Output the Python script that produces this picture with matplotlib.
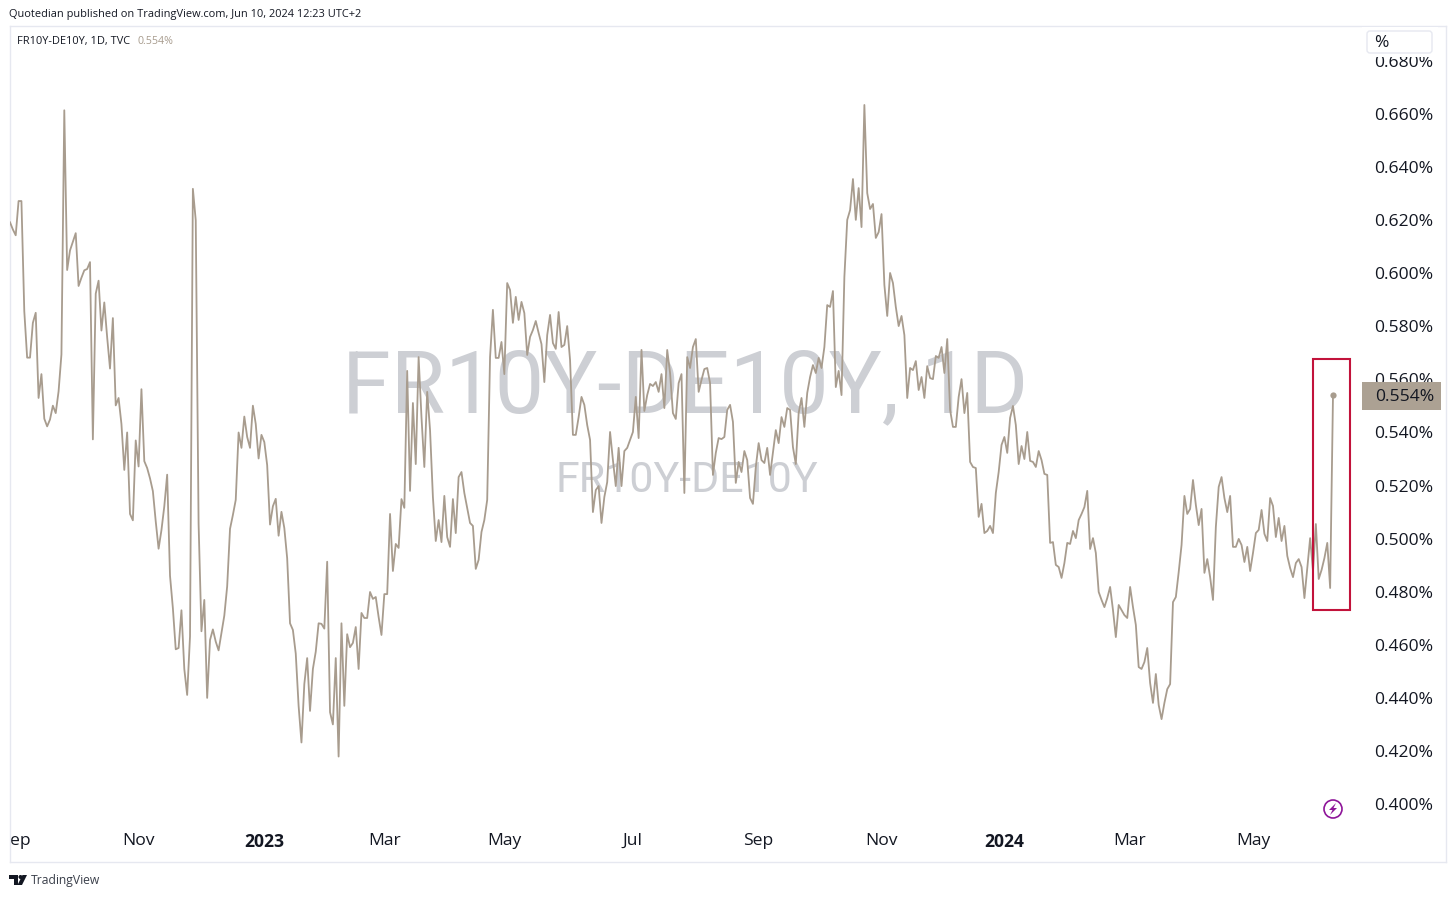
import numpy as np
import pandas as pd
import matplotlib
matplotlib.use("Agg")
import matplotlib.pyplot as plt
from matplotlib.patches import Rectangle, Circle, Polygon, FancyBboxPatch
from matplotlib.transforms import Affine2D

spread_2022 = [
 .6192,.6165,.6143,.6272,.6272,.5857,.5682,.5682,.5813,.5851,.5530,.5620,.5452,.5423,.5449,.5501,.5473,.5555,.5694,.6614,
 .6012,.6086,.6119,.6151,.5952,.5983,.6011,.6016,.6042,.5374,.5923,.5972,.5784,.5890,.5759,.5641,.5831,.5502,.5530,.5432,
 .5259,.5400,.5093,.5069,.5370,.5272,.5563,.5292,.5266,.5227,.5179,.5065,.4962,.5032,.5122,.5241,.4860,.4738,.4583,.4588,
 .4730,.4509,.4411,.4632,.6318,.6200,.5056,.4651,.4769,.4400,.4618,.4658,.4612,.4579,.4645,.4710,.4820,.5037,.5089,.5146,
 .5400,.5342,.5460,.5383,.5342,.5501,.5432,.5302,.5391,.5364,.5277,.5053,.5122,.5150,.5011,.5101,.5040,.4926,.4681,.4656,
 .4567,.4370,.4232,.4452,.4550,.4351,.4509,.4574,.4681,.4679,.4661,.4913,.4346,.4300,.4550,.4179,.4681,.4370,.4640,.4591,
 .4607,.4667,.4509]
spread_2023a = [
 .4720,.4701,.4701,.4799,.4773,.4780,.4705,.4637,.4791,.4791,.5093,.4878,.4980,.4965,.5149,.5116,.5632,.5180,.5511,.5281,
 .5684,.5458,.5270,.5553,.5409,.5157,.4991,.5070,.4987,.5161,.5006,.4969,.5149,.5021,.5232,.5251,.5172,.5116,.5059,.5048,
 .4886,.4920,.5025,.5070,.5146,.5684,.5862,.5681,.5681,.5741,.5620,.5963,.5937,.5813,.5911,.5824,.5892,.5850,.5692,.5760,
 .5786,.5820,.5775,.5733,.5590,.5767,.5843,.5737,.5715,.5854,.5722,.5730,.5801,.5673,.5391,.5391,.5458,.5534,.5504,.5428,
 .5372,.5100,.5183,.5198,.5059,.5157,.5213,.5402,.5296,.5198,.5342,.5198,.5330,.5342,.5372,.5402,.5534,.5379,.5711,.5481,
 .5541,.5583,.5575,.5590,.5553,.5620,.5492,.5711,.5624,.5473,.5451,.5586,.5620,.5172,.5684,.5643,.5722,.5752,.5553]
spread_2023b = [
 .5598,.5639,.5643,.5586,.5240,.5323,.5379,.5375,.5383,.5485,.5504,.5440,.5210,.5289,.5251,.5330,.5296,.5153,.5131,.5270,
 .5360,.5296,.5285,.5342,.5240,.5326,.5409,.5360,.5458,.5421,.5492,.5485,.5345,.5281,.5473,.5530,.5421,.5549,.5609,.5654,
 .5624,.5681,.5643,.5722,.5880,.5873,.5933,.5571,.5632,.5541,.5986,.6201,.6238,.6355,.6201,.6321,.6174,.6634,.6302,.6242,
 .6261,.6133,.6155,.6223,.5956,.5839,.6001,.5963,.5873,.5801,.5839,.5767,.5530,.5643,.5635,.5669,.5560,.5609,.5530,.5650,
 .5605,.5601,.5688,.5681,.5722,.5624,.5752,.5485,.5421,.5421,.5534,.5601,.5473,.5549,.5289,.5270,.5266,.5082,.5131,.5021,
 .5029,.5048,.5021,.5172,.5251,.5353,.5383,.5323,.5455,.5500,.5428,.5281,.5349,.5300,.5402,.5293,.5289,.5270,.5330,.5296,
 .5244,.5240,.4984,.4987]
spread_2024 = [
 .4901,.4893,.4852,.4908,.4984,.4980,.5029,.5002,.5070,.5093,.5119,.5180,.4961,.5002,.4946,.4799,.4769,.4742,.4776,.4818,
 .4731,.4629,.4750,.4731,.4712,.4701,.4818,.4742,.4675,.4516,.4509,.4535,.4588,.4456,.4381,.4490,.4373,.4320,.4381,.4433,
 .4452,.4761,.4780,.4874,.4976,.5161,.5093,.5112,.5221,.5127,.5051,.5112,.4871,.4923,.4855,.4769,.5044,.5195,.5232,.5153,
 .5100,.5161,.4969,.4969,.4999,.4976,.4912,.4969,.4878,.4946,.5021,.5033,.5108,.5018,.4991,.5153,.5123,.5006,.5078,.4991,
 .5048,.4935,.4889,.4855,.4908,.4923,.4893,.4776,.4889,.5002,.4878,.5055,.4848,.4882,.4927,.4984,.4814,.5540]
values = spread_2022 + spread_2023a + spread_2023b + spread_2024

y_ticks = [0.40,0.42,0.44,0.46,0.48,0.50,0.52,0.54,0.56,0.58,0.60,0.62,0.64,0.66,0.68]
x_tick_dates = ["2022-11-02","2023-01-03","2023-03-02","2023-05-01","2023-07-03","2023-09-01",
                "2023-11-01","2024-01-01","2024-03-01","2024-05-01"]
x_tick_labels = ["Nov","2023","Mar","May","Jul","Sep","Nov","2024","Mar","May"]
first_label = "ep"
last_value = values[-1]

LINE = "#A89C8E"; TEXT = "#131722"; WM = "#CDCFD4"; BORDER = "#E6E8F0"
BODY = "Open Sans"; LABEL_SIZE = 12.6

fig = plt.figure(figsize=(14.56, 8.97), dpi=100, facecolor="white")
W, H = 1456, 897
px = Affine2D().scale(1, -1).translate(0, H)
L, R, T, B = 10, 1446, 26, 862
ax = fig.add_axes([L/W, 1-B/H, (R-L)/W, (B-T)/H])

n = len(values)
dates = pd.bdate_range(end="2024-06-10", periods=n)
xs = np.arange(n)
scale = 2654.0  # pixels per percentage point of the y axis
ax.set_ylim(0.660-(B-114)/scale, 0.660+(114-T)/scale)
ax.set_xlim(0, (n-1)*(R-L)/(1333-L))

ax.plot(xs, values, color=LINE, lw=1.3, solid_joinstyle="round", zorder=3)
ax.plot(xs[-1], values[-1], "o", color=LINE, ms=4.5, mec="none", zorder=3)

for s in ax.spines.values():
    s.set_color(BORDER); s.set_linewidth(1)

ax.yaxis.tick_right()
ax.set_yticks(y_ticks, [f"{v:.3f}%" for v in y_ticks])
ax.tick_params(axis="y", length=0, pad=-51.5, labelsize=LABEL_SIZE, labelcolor=TEXT)
tick_idx = [int(np.searchsorted(dates, pd.Timestamp(d))) for d in x_tick_dates]
ax.set_xticks([0]+tick_idx, [first_label]+x_tick_labels)
ax.tick_params(axis="x", length=0, pad=-21, labelsize=LABEL_SIZE, labelcolor=TEXT)
labs = ax.get_xticklabels()
labs[0].set_ha("left")
for t in labs:
    t.set_fontfamily(BODY)
    if t.get_text() in ("2023", "2024"):
        t.set_fontweight("bold")
for t in ax.get_yticklabels():
    t.set_fontfamily(BODY)

# watermarks
ax.text(685, 412, "FR10Y-DE10Y, 1D", transform=px, ha="center", va="baseline", fontsize=63.5,
        color=WM, family="Roboto", zorder=1)
ax.text(686.5, 492, "FR10Y-DE10Y", transform=px, ha="center", va="baseline", fontsize=31,
        color=WM, family="Roboto", zorder=1)

# header / footer
fig.text(9/W, 1-15/H, "Quotedian published on TradingView.com, Jun 10, 2024 12:23 UTC+2",
         fontsize=7.93, color=TEXT, va="center", family=BODY)
fig.text(17/W, 1-41.5/H, "FR10Y-DE10Y, 1D, TVC", fontsize=7.9, color=TEXT, va="center", family=BODY)
fig.text(137/W, 1-41.5/H, f"{last_value:.3f}%", fontsize=7.7, color=LINE, va="center", family=BODY)
fig.text(31/W, 1-880/H, "TradingView", fontsize=8.7, color="#3A3F4A", va="center", family=BODY)

# % box: white halo hides the top of the 0.680% label
fig.add_artist(Rectangle((1362, 27), 76, 30, transform=px, fc="white", ec="none", zorder=6))
fig.add_artist(FancyBboxPatch((1367, 31), 65, 22, boxstyle="round,pad=0,rounding_size=3", transform=px,
                              fc="white", ec="#E6E8F0", lw=1, zorder=6))
fig.text(1374/W, 1-43/H, "%", fontsize=12.5, color=TEXT, va="center", family=BODY, zorder=7)

# last-price tag
fig.add_artist(Rectangle((1362, 382), 79, 28, transform=px, fc="#ACA193", ec="none", zorder=6))
fig.text(1375/W, 1-397/H, f"{last_value:.3f}%", fontsize=LABEL_SIZE, color=TEXT, va="center", family=BODY, zorder=7)

# red highlight
fig.add_artist(Rectangle((1313, 359), 37, 251, transform=px, fc="none", ec="#C2133B", lw=1.5, zorder=5))

# purple icon
fig.add_artist(Circle((1333, 809), 9, transform=px, fc="white", ec="#8E1599", lw=1.2, zorder=5))
fig.add_artist(Polygon([(1336,803),(1329,810),(1332.5,810),(1330,815),(1337,808),(1333.5,808)], transform=px,
                       fc="#8E1599", ec="none", zorder=6))

# TV logo
K = "#131722"
fig.add_artist(Polygon([(9,875),(18,875),(18,885),(13.5,885),(13.5,879),(9,879)], transform=px, fc=K, ec="none"))
fig.add_artist(Circle((20.5,877), 2, transform=px, fc=K, ec="none"))
fig.add_artist(Polygon([(22,885),(17.5,885),(22.5,875),(27,875)], transform=px, fc=K, ec="none"))

fig.savefig("out.png", dpi=100, facecolor="white")
